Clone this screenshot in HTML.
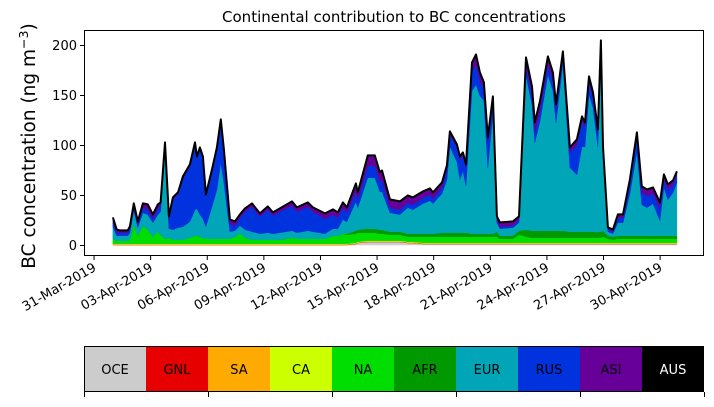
<!DOCTYPE html>
<html><head><meta charset="utf-8"><style>
body{margin:0;background:#fff;font-family:"Liberation Sans","DejaVu Sans",sans-serif}
svg text{font-family:"DejaVu Sans","Liberation Sans",sans-serif}
</style></head><body>
<svg id="chart" width="714" height="402" viewBox="0 0 714 402" xmlns="http://www.w3.org/2000/svg">
<text x="394" y="22" font-size="15" text-anchor="middle">Continental contribution to BC concentrations</text>
<text transform="translate(35,146) rotate(-90)" font-size="18.5" text-anchor="middle">BC concentration (ng m<tspan dy="-7" font-size="12.5">−3</tspan><tspan dy="7">)</tspan></text>
<g id="areas"></g>
<g id="axes"></g>
<rect x="84.5" y="30.5" width="619" height="225" fill="none" stroke="#000" stroke-width="1"/>
<g id="cbar"></g>
</svg>
<script>
const days=[0,0.2,0.37,0.79,0.9,1.11,1.32,1.59,1.85,2.12,2.38,2.53,2.76,2.97,3.18,3.45,3.71,4.08,4.35,4.45,4.61,4.77,4.93,5.25,5.51,5.72,5.88,6.2,6.47,6.73,7.0,7.37,7.79,8.21,8.48,8.85,9.49,9.75,10.33,10.6,11.24,11.66,11.92,12.19,12.4,12.88,12.98,13.51,13.88,14.15,14.26,14.68,15.21,15.63,15.9,16.43,16.8,16.96,17.44,17.7,17.86,18.23,18.39,18.55,18.71,19.03,19.24,19.45,19.66,19.87,20.14,20.35,20.51,21.2,21.52,21.89,22.21,22.36,22.63,23.05,23.32,23.48,23.85,24.22,24.59,24.86,25.02,25.23,25.44,25.7,25.86,25.97,26.23,26.5,26.76,27.03,27.4,27.77,28.03,28.3,28.62,28.99,29.2,29.41,29.68,29.89];
const oce=[0,0,0,0,0,0,0,0,0,0,0,0,0,0,0,0,0,0,0,0,0,0,0,0,0,0,0,0,0,0,0,0,0,0,0,0,0,0,0,0,0,0,0,0,0,1,2,3,3,3,3,3,3,2,2,1,1,1,1,1,1,1,1,1,1,1,1,1,1,1,1,1,1,1,1,1,1,1,1,1,1,1,1,1,1,1,1,1,1,1,1,1,1,1,1,1,1,1,1,1,1,1,1,1,1,1];
const gnl=days.map(()=>0.3);
const sa=days.map(()=>0.5);
const ca=days.map(()=>0.5);
const na=[5,3,3,3,4,20,8,18,14,7,12,9,5,6,4,4,4,6,8,8,7,6,5,5,5,5,5,5,7,10,6,4,4,4,4,4,6,5,5,5,5,8,8,10,9,9,9,8,8,7,7,6,6,5,5,6,6,6,6,6,6,6,6,6,6,6,6,6,6,6,6,6,4,4,8,6,5,5,5,5,5,5,5,5,5,5,5,5,5,5,5,6,4,3,4,4,4,4,4,4,4,4,4,4,4,4];
const afr=[0,0,0,0,0,0,0,0,0,0,0,0,0,0,0,0,0,0,0,0,0,0,0,0,0,0,0,0,0,0,0,0,0,0,0,0,0,0,0,0,0,0,0,0,1,3,3,4,4,4,4,3,3,3,3,3,3,3,4,4,4,4,4,4,4,3,3,3,3,3,3,5,3,3,4,7,7,7,7,7,7,7,7,6,6,6,6,6,6,6,6,6,3,3,3,3,3,3,3,3,3,3,3,3,3,3];
const eur=[12,5,5,5,7,13,8,13,15,14,17,23,88,9,10,12,13,16,26,27,22,19,12,32,49,76,56,7,6,8,8,8,6,7,6,7,7,6,8,7,5,7,7,14,12,29,22,51,51,38,38,19,17,26,24,30,33,30,39,53,86,71,53,62,47,143,149,138,133,66,120,9,7,8,8,154,126,88,109,156,140,108,167,64,57,85,85,137,124,85,185,78,4,3,13,13,42,84,31,28,32,15,48,36,43,53];
const rus=[4,3,3,3,4,4,3,5,5,4,6,6,5,10,30,33,48,55,65,50,65,60,30,35,40,40,30,8,5,8,18,25,17,23,18,21,25,21,24,20,15,14,11,12,9,10,8,12,12,10,12,5,5,5,5,6,6,5,6,10,12,14,20,15,18,20,20,15,12,25,12,2,2,2,3,10,8,10,10,10,10,12,8,15,30,25,20,12,10,12,4,3,2,2,5,5,10,15,12,12,10,12,8,10,8,8];
const asi=[5,3,2,2,2,3,3,4,5,4,4,3,3,2,2,2,2,2,2,2,2,2,2,2,2,3,3,4,4,3,3,3,3,3,3,3,4,4,4,4,5,5,5,5,5,8,7,10,10,9,9,8,8,7,7,6,6,6,5,4,3,3,3,3,3,8,10,8,6,5,5,4,4,4,3,8,10,10,10,8,8,6,4,5,5,5,4,6,5,5,2,3,2,2,3,3,4,4,6,6,6,6,5,5,4,3];
const aus=days.map(()=>0.3);
const series=[oce,gnl,sa,ca,na,afr,eur,rus,asi,aus];
const names=["OCE","GNL","SA","CA","NA","AFR","EUR","RUS","ASI","AUS"];
const colors=["#cccccc","#e60000","#ffaa00","#ccff00","#00dd00","#009900","#00a6b8","#0033dd","#660099","#000000"];
const yTicks=[0,50,100,150,200];
const xTickDays=[-1,2,5,8,11,14,17,20,23,26,29];
const xTickLabels=["31-Mar-2019","03-Apr-2019","06-Apr-2019","09-Apr-2019","12-Apr-2019","15-Apr-2019","18-Apr-2019","21-Apr-2019","24-Apr-2019","27-Apr-2019","30-Apr-2019"];

const NS="http://www.w3.org/2000/svg";
const X=d=>112.9+d*18.87;
const Y=v=>245-v;
function mk(tag,attrs,parent){const e=document.createElementNS(NS,tag);for(const k in attrs)e.setAttribute(k,attrs[k]);parent.appendChild(e);return e;}
const areas=document.getElementById('areas');
let base=days.map(()=>0);
series.forEach((s,i)=>{
  const top=base.map((b,j)=>b+s[j]);
  let pts=days.map((d,j)=>X(d).toFixed(1)+','+Y(top[j]).toFixed(1));
  for(let j=days.length-1;j>=0;j--)pts.push(X(days[j]).toFixed(1)+','+Y(base[j]).toFixed(1));
  const p=mk('polygon',{points:pts.join(' '),fill:colors[i],stroke:colors[i],'stroke-width':0.5},areas);
  
  
  base=top;
});
const line=mk('polyline',{points:days.map((d,j)=>X(d).toFixed(1)+','+Y(base[j]).toFixed(1)).join(' '),fill:'none',stroke:'#000','stroke-width':2,'stroke-linejoin':'round'},areas);



const axes=document.getElementById('axes');
yTicks.forEach(v=>{
  const t=mk('line',{x1:80,x2:84.5,y1:Y(v)+0.5,y2:Y(v)+0.5,stroke:'#000'},axes);
  
  
  const l=mk('text',{x:77,y:Y(v)+5,'font-size':13,'text-anchor':'end'},axes);
  l.textContent=v;
  
  
});
xTickDays.forEach((d,i)=>{
  const x=X(d);
  const t=mk('line',{x1:x,x2:x,y1:255.5,y2:260,stroke:'#000'},axes);
  
  
  const l=mk('text',{x:x+3,y:270,'font-size':13,'text-anchor':'end',transform:`rotate(-30 ${x+3} 270)`},axes);
  l.textContent=xTickLabels[i];
  
  
});

const cb=document.getElementById('cbar');
const w=62;
names.forEach((n,i)=>{
  const r=mk('rect',{x:84+i*w,y:346,width:w,height:46,fill:colors[i]},cb);
  
  
  const t=mk('text',{x:84+i*w+w/2,y:374,'font-size':13,'text-anchor':'middle',fill:n==='AUS'?'#fff':'#000'},cb);
  t.textContent=n;
  
  
});
const fr=mk('rect',{x:84.5,y:346.5,width:619,height:45,fill:'none',stroke:'#000'},cb);


[0,2,4,6,8,10].forEach(k=>{
  const t=mk('line',{x1:84.5+k*w,x2:84.5+k*w,y1:392,y2:397,stroke:'#000'},cb);
  
  
});
</script>
</body></html>
